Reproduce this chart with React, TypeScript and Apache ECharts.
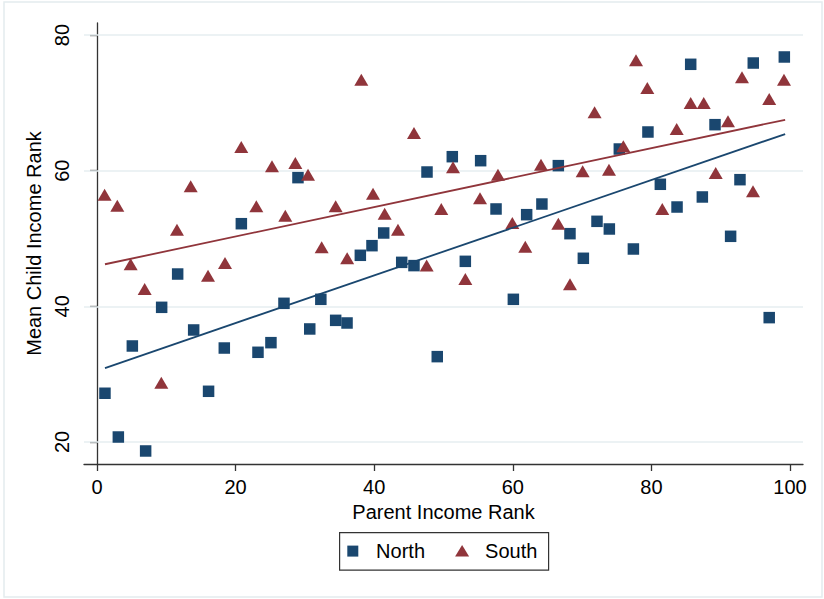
import React, { useEffect, useRef } from "react";
import * as echarts from "echarts";

// Parent income rank (x) and mean child income rank (y) for each region
const northX = [1.15, 3.08, 5.1, 7.02, 9.33, 11.64, 13.95, 16.1, 18.37, 20.83, 23.23, 25.1, 26.98, 29.0, 30.7, 32.3, 34.44, 36.08, 38.0, 39.68, 41.37, 43.97, 45.74, 47.62, 49.1, 51.27, 53.15, 55.36, 57.58, 60.08, 62.0, 64.2, 66.57, 68.25, 70.18, 72.15, 73.93, 75.37, 77.4, 79.5, 81.29, 83.7, 85.67, 87.35, 89.18, 91.43, 92.78, 94.7, 97.0, 99.18];
const northY = [27.18, 20.73, 34.15, 18.67, 39.85, 44.76, 36.51, 27.47, 33.85, 52.18, 33.22, 34.64, 40.44, 58.97, 36.66, 41.03, 37.93, 37.54, 47.52, 48.94, 50.81, 46.48, 46.0, 59.8, 32.58, 62.06, 46.63, 61.47, 54.35, 41.03, 53.51, 55.08, 60.74, 50.71, 47.08, 52.53, 51.4, 63.19, 48.45, 65.7, 57.99, 54.64, 75.68, 56.12, 66.78, 50.32, 58.67, 75.87, 38.33, 76.76];

const southX = [1.1, 2.93, 4.86, 6.88, 9.28, 11.54, 13.52, 16.02, 18.47, 20.82, 22.99, 25.25, 27.17, 28.62, 30.45, 32.42, 34.44, 36.1, 38.14, 39.83, 41.51, 43.43, 45.74, 47.57, 49.68, 51.37, 53.15, 55.27, 57.86, 59.93, 61.8, 64.07, 66.57, 68.25, 70.08, 71.8, 73.88, 75.95, 77.78, 79.41, 81.57, 83.65, 85.67, 87.55, 89.28, 91.05, 93.07, 94.66, 97.0, 99.13];
const southY = [56.46, 54.83, 46.19, 42.55, 28.74, 51.3, 57.69, 44.52, 46.39, 63.49, 54.74, 60.64, 53.36, 61.13, 59.41, 48.7, 54.74, 47.1, 73.41, 56.6, 53.65, 51.3, 65.55, 46.0, 54.35, 60.5, 44.03, 55.92, 59.41, 52.28, 48.79, 60.88, 52.18, 43.24, 59.9, 68.6, 60.14, 63.59, 76.27, 72.19, 54.35, 66.14, 69.97, 69.97, 59.65, 67.27, 73.76, 56.95, 70.56, 73.41];

// Linear fit end points
const fitX = [1.15, 99.3];
const northFitY = [30.9, 65.4];
const southFitY = [46.2, 67.5];

const xTicks = [0, 20, 40, 60, 80, 100];
const yTicks = [20, 40, 60, 80];

const NAVY = "#1a476f";
const MAROON = "#90353b";
const FONT = "'Liberation Sans', Arial, sans-serif";

const zip = (xs: number[], ys: number[]) => xs.map((x, i) => [x, ys[i]]);

export default function App() {
  const ref = useRef<HTMLDivElement>(null);

  useEffect(() => {
    if (!ref.current) return;
    const chart = echarts.init(ref.current, null, { renderer: "svg" });
    const axisLine = { show: true, lineStyle: { color: "#333", width: 1.3 } };
    chart.setOption({
      animation: false,
      backgroundColor: "#fff",
      textStyle: { fontFamily: FONT },
      grid: { left: 84, right: 21, top: 23, bottom: 135, containLabel: false },
      xAxis: {
        type: "value",
        min: -1.875,
        max: 101.875,
        name: "Parent Income Rank",
        nameLocation: "middle",
        nameGap: 35,
        nameTextStyle: { fontSize: 20, color: "#000", fontFamily: FONT },
        axisLine,
        axisTick: { show: true, length: 7, customValues: xTicks, lineStyle: { color: "#333", width: 1.3 } },
        axisLabel: { customValues: xTicks, fontSize: 20, color: "#000", margin: 13, fontFamily: FONT },
        splitLine: { show: false },
      },
      yAxis: {
        type: "value",
        min: 16.75,
        max: 81.77,
        name: "Mean Child Income Rank",
        nameLocation: "middle",
        nameGap: 34,
        nameTextStyle: { fontSize: 20, color: "#000", fontFamily: FONT },
        axisLine,
        axisTick: { show: true, length: 7, customValues: yTicks, lineStyle: { color: "#333", width: 1.3 } },
        axisLabel: { customValues: yTicks, fontSize: 20, color: "#000", margin: 12, rotate: 90, fontFamily: FONT },
        splitLine: { show: false },
      },
      series: [
        {
          name: "North",
          type: "scatter",
          data: zip(northX, northY),
          symbol: "rect",
          symbolSize: 11.5,
          itemStyle: { color: NAVY, opacity: 1 },
          z: 3,
          markLine: {
            silent: true,
            symbol: "none",
            label: { show: false },
            lineStyle: { color: "#e6eef0", width: 1.5, type: "solid" },
            data: yTicks.map((v) => ({ yAxis: v })),
            z: 1,
          },
        },
        {
          name: "South",
          type: "scatter",
          data: zip(southX, southY),
          symbol: "triangle",
          symbolSize: [14, 12],
          itemStyle: { color: MAROON, opacity: 1 },
          z: 4,
        },
        {
          name: "North fit",
          type: "line",
          data: zip(fitX, northFitY),
          showSymbol: false,
          symbol: "none",
          lineStyle: { color: NAVY, width: 1.8 },
          z: 5,
        },
        {
          name: "South fit",
          type: "line",
          data: zip(fitX, southFitY),
          showSymbol: false,
          symbol: "none",
          lineStyle: { color: MAROON, width: 1.8 },
          z: 5,
        },
      ],
      graphic: [
        {
          type: "rect",
          shape: { x: 4, y: 2, width: 818, height: 595 },
          style: { fill: "none", stroke: "#e4ecee", lineWidth: 1.5 },
          silent: true,
        },
        {
          type: "group",
          left: 339,
          top: 532,
          children: [
            {
              type: "rect",
              shape: { x: 0.5, y: 0.5, width: 209, height: 37.5 },
              style: { fill: "#fff", stroke: "#333", lineWidth: 1.2 },
            },
            {
              type: "rect",
              shape: { x: 8.2, y: 13.5, width: 11, height: 11 },
              style: { fill: NAVY },
            },
            {
              type: "text",
              x: 37,
              y: 19,
              style: { text: "North", font: `20px ${FONT}`, fill: "#000", verticalAlign: "middle", align: "left" },
            },
            {
              type: "polygon",
              shape: { points: [[116, 24.5], [130, 24.5], [123, 13]] },
              style: { fill: MAROON },
            },
            {
              type: "text",
              x: 146,
              y: 19,
              style: { text: "South", font: `20px ${FONT}`, fill: "#000", verticalAlign: "middle", align: "left" },
            },
          ],
        },
      ],
    });
    return () => chart.dispose();
  }, []);

  return (
    <div
      ref={ref}
      style={{ position: "fixed", left: 0, top: 0, width: 824, height: 599 }}
    />
  );
}
